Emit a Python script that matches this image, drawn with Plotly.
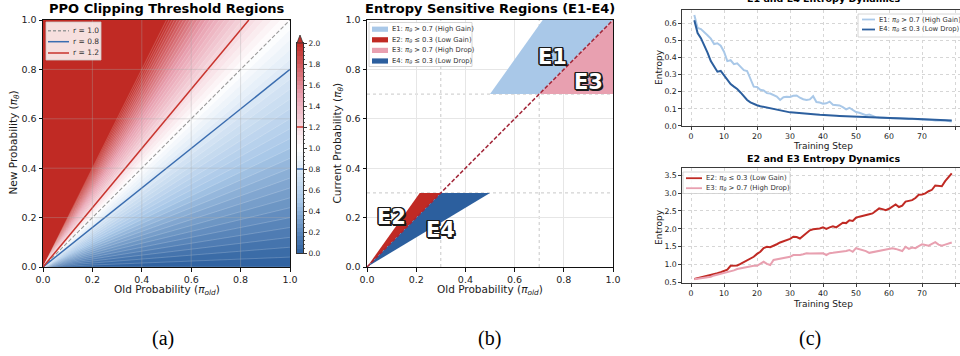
import numpy as np
import plotly.graph_objects as go

W, H = 960, 356

# ---------------- data ----------------
# (a) PPO clipping ratio map r = pi_theta / pi_old
prob_ticks = [0.0, 0.2, 0.4, 0.6, 0.8, 1.0]
ratio_lo, ratio_hi, ratio_step = 0.0, 2.0, 0.04
cbar_ticks = [0.0, 0.2, 0.4, 0.6, 0.8, 1.0, 1.2, 1.4, 1.6, 1.8, 2.0]
clip_ratios = [1.0, 0.8, 1.2]
clip_labels = ["r = 1.0", "r = 0.8", "r = 1.2"]

# (b) entropy-sensitive regions
high_thr = 0.7
low_thr = 0.3
ratio_up = 1.4
ratio_down = 0.6
region_names = ["E1", "E2", "E3", "E4"]
region_legend = [
    "E1: <i>π</i><sub><i>θ</i></sub> &gt; 0.7 (High Gain)",
    "E2: <i>π</i><sub><i>θ</i></sub> ≤ 0.3 (Low Gain)",
    "E3: <i>π</i><sub><i>θ</i></sub> &gt; 0.7 (High Drop)",
    "E4: <i>π</i><sub><i>θ</i></sub> ≤ 0.3 (Low Drop)",
]
region_label_pos = [(0.753, 0.851), (0.098, 0.203), (0.90, 0.75), (0.30, 0.151)]

# (c) entropy dynamics
steps = list(range(1, 80))
e1_entropy = [0.65, 0.575, 0.568, 0.552, 0.532, 0.512, 0.48, 0.485, 0.47, 0.435,
              0.38, 0.385, 0.362, 0.367, 0.345, 0.327, 0.322, 0.27, 0.23, 0.228,
              0.212, 0.208, 0.192, 0.19, 0.18, 0.172, 0.152, 0.168, 0.17, 0.169,
              0.176, 0.178, 0.165, 0.156, 0.152, 0.155, 0.174, 0.14, 0.137, 0.13,
              0.132, 0.142, 0.124, 0.124, 0.12, 0.11, 0.097, 0.106, 0.092, 0.081,
              0.077, 0.07, 0.062, 0.066, 0.057, 0.051, 0.049, 0.047, 0.046, 0.047,
              0.045, 0.046, 0.045, 0.044, 0.045, 0.045, 0.042, 0.041, 0.039, 0.038,
              0.037, 0.035, 0.034, 0.031, 0.032, 0.031, 0.031, 0.029, 0.026]
e4_entropy = [0.62, 0.545, 0.515, 0.475, 0.43, 0.38, 0.352, 0.318, 0.322, 0.296,
              0.275, 0.245, 0.23, 0.216, 0.196, 0.172, 0.152, 0.138, 0.128, 0.121,
              0.115, 0.111, 0.106, 0.102, 0.098, 0.092, 0.087, 0.084, 0.081, 0.079,
              0.078, 0.077, 0.074, 0.072, 0.071, 0.069, 0.068, 0.067, 0.065, 0.063,
              0.062, 0.061, 0.06, 0.059, 0.058, 0.057, 0.056, 0.055, 0.054, 0.053,
              0.052, 0.051, 0.05, 0.05, 0.049, 0.048, 0.047, 0.046, 0.045, 0.045,
              0.044, 0.043, 0.042, 0.042, 0.041, 0.041, 0.041, 0.04, 0.039, 0.038,
              0.037, 0.036, 0.035, 0.035, 0.034, 0.033, 0.033, 0.032, 0.031]
e2_entropy = [0.6, 0.62, 0.65, 0.68, 0.69, 0.71, 0.73, 0.76, 0.79, 0.83,
              0.86, 0.97, 0.97, 0.98, 1.02, 1.07, 1.12, 1.17, 1.22, 1.3,
              1.36, 1.46, 1.5, 1.49, 1.52, 1.57, 1.62, 1.65, 1.7, 1.72,
              1.78, 1.77, 1.73, 1.8, 1.88, 1.96, 1.99, 1.99, 2.01, 2.04,
              2.0, 2.04, 2.07, 2.04, 2.1, 2.17, 2.16, 2.24, 2.22, 2.31,
              2.34, 2.37, 2.39, 2.41, 2.43, 2.5, 2.57, 2.55, 2.52, 2.56,
              2.63, 2.68, 2.61, 2.65, 2.76, 2.78, 2.8, 2.86, 2.95, 2.96,
              2.99, 3.05, 3.09, 3.21, 3.19, 3.19, 3.33, 3.45, 3.55]
e3_entropy = [0.59, 0.6, 0.61, 0.63, 0.64, 0.66, 0.7, 0.72, 0.75, 0.76,
              0.78, 0.81, 0.84, 0.88, 0.9, 0.92, 0.93, 0.95, 0.97, 0.97,
              1.02, 1.08, 1.02, 0.99, 1.13, 1.15, 1.16, 1.18, 1.2, 1.22,
              1.27, 1.26, 1.27, 1.29, 1.32, 1.31, 1.31, 1.31, 1.32, 1.32,
              1.27, 1.32, 1.33, 1.34, 1.35, 1.36, 1.38, 1.41, 1.36, 1.46,
              1.44, 1.41, 1.38, 1.33, 1.35, 1.37, 1.38, 1.4, 1.41, 1.44,
              1.46, 1.44, 1.41, 1.38, 1.5, 1.44, 1.48, 1.46, 1.52, 1.57,
              1.55, 1.53, 1.58, 1.63, 1.56, 1.53, 1.56, 1.59, 1.62]
step_ticks = [0, 10, 20, 30, 40, 50, 60, 70, 80]
top_ticks = [0.0, 0.1, 0.2, 0.3, 0.4, 0.5, 0.6]
bot_ticks = [0.5, 1.0, 1.5, 2.0, 2.5, 3.0, 3.5]
c_legend_top = ["E1: <i>π</i><sub><i>θ</i></sub> &gt; 0.7 (High Gain)",
                "E4: <i>π</i><sub><i>θ</i></sub> ≤ 0.3 (Low Drop)"]
c_legend_bot = ["E2: <i>π</i><sub><i>θ</i></sub> ≤ 0.3 (Low Gain)",
                "E3: <i>π</i><sub><i>θ</i></sub> &gt; 0.7 (High Drop)"]

# ---------------- style ----------------
C_E1 = "#a9c8e8"
C_E2 = "#c02a24"
C_E3 = "#e8a0b0"
C_E4 = "#2c5f9e"
C_R08 = "#3a6db0"
C_R12 = "#c8332c"
CMAP = [[0.0, C_E4], [0.25, C_E1], [0.5, "#ffffff"], [0.75, C_E3], [1.0, C_E2]]
FONT = "DejaVu Sans"


def px(x):
    return x / W


def py(y):
    return 1 - y / H


shapes, annots = [], []

fig = go.Figure()

# ---------------- (a) contour ----------------
pi_old = np.linspace(0, 1, 301)
pi_new = np.linspace(0, 1, 301)
PO, PN = np.meshgrid(pi_old, pi_new)
with np.errstate(divide="ignore", invalid="ignore"):
    ratio = np.where(PO > 0, PN / np.where(PO > 0, PO, 1), 2.5)
ratio = np.clip(ratio, 0, 2.5)
ratio[0, 0] = 1.0

fig.add_trace(go.Contour(
    x=pi_old, y=pi_new, z=ratio, xaxis="x", yaxis="y",
    colorscale=CMAP, zmin=ratio_lo, zmax=ratio_hi, zauto=False,
    autocontour=False,
    contours=dict(start=ratio_lo, end=ratio_hi, size=ratio_step, coloring="fill"),
    line=dict(color="rgba(255,255,255,0.4)", width=0.5),
    showscale=False, hoverinfo="skip", showlegend=False))

line_styles = {1.0: ("#9a9a9a", "4px,2px"), 0.8: (C_R08, "solid"), 1.2: (C_R12, "solid")}
for r in clip_ratios:
    xe = min(1.0, 1.0 / r)
    col, dash = line_styles[r]
    fig.add_trace(go.Scatter(x=[0, xe], y=[0, r * xe], mode="lines", xaxis="x", yaxis="y",
                             line=dict(color=col, width=1.5 if r != 1.0 else 1.1, dash=dash),
                             showlegend=False, hoverinfo="skip"))

# grid over contour
for t in prob_ticks[1:-1]:
    shapes.append(dict(type="line", xref="x", yref="y", x0=t, x1=t, y0=0, y1=1,
                       line=dict(color="rgba(170,170,170,0.35)", width=1), layer="above"))
    shapes.append(dict(type="line", xref="x", yref="y", x0=0, x1=1, y0=t, y1=t,
                       line=dict(color="rgba(170,170,170,0.35)", width=1), layer="above"))

# colorbar as its own axis
levels = np.arange(ratio_lo, ratio_hi + ratio_step / 2, ratio_step)
mids = (levels[:-1] + levels[1:]) / 2
fig.add_trace(go.Heatmap(x=[0, 1], y=levels, z=[[m] for m in mids], xaxis="x2", yaxis="y2",
                         colorscale=CMAP, zmin=ratio_lo, zmax=ratio_hi, showscale=False,
                         hoverinfo="skip"))
for val, col in [(0.8, C_R08), (1.2, C_R12)]:
    shapes.append(dict(type="line", xref="x2", yref="y2", x0=0, x1=1, y0=val, y1=val,
                       line=dict(color=col, width=1.5), layer="above"))
cb_x0, cb_x1, cb_top, cb_apex = 297, 303, 43, 35
shapes.append(dict(type="path", xref="paper", yref="paper",
                   path=f"M {px(cb_x0)},{py(cb_top)} L {px((cb_x0 + cb_x1) / 2)},{py(cb_apex)} L {px(cb_x1)},{py(cb_top)} Z",
                   fillcolor=C_E2, line=dict(color="#333", width=0.8), layer="above"))

# ---------------- (b) regions ----------------
regions = {
    "E1": ([high_thr / ratio_up, 1.0 / ratio_up, 1.0, high_thr], [high_thr, 1.0, 1.0, high_thr], C_E1),
    "E2": ([0.0, low_thr / ratio_up, low_thr], [0.0, low_thr, low_thr], C_E2),
    "E3": ([high_thr, 1.0, 1.0], [high_thr, 1.0, high_thr], C_E3),
    "E4": ([0.0, low_thr, low_thr / ratio_down], [0.0, low_thr, low_thr], C_E4),
}
for name in region_names:
    xs, ys, col = regions[name]
    fig.add_trace(go.Scatter(x=xs + [xs[0]], y=ys + [ys[0]], fill="toself", fillcolor=col,
                             mode="lines", line=dict(width=0, color=col), xaxis="x3", yaxis="y3",
                             showlegend=False, hoverinfo="skip"))
fig.add_trace(go.Scatter(x=[0, 1], y=[0, 1], mode="lines", xaxis="x3", yaxis="y3",
                         line=dict(color="#a3283a", width=1.5, dash="4px,2px"),
                         showlegend=False, hoverinfo="skip"))
for t in [low_thr, high_thr]:
    shapes.append(dict(type="line", xref="x3", yref="y3", x0=t, x1=t, y0=0, y1=1,
                       line=dict(color="#c8c8c8", width=1, dash="dot"), layer="below"))
    shapes.append(dict(type="line", xref="x3", yref="y3", x0=0, x1=1, y0=t, y1=t,
                       line=dict(color="#c8c8c8", width=1, dash="dot"), layer="below"))
outline = ", ".join(f"{dx}px {dy}px 0 #1a1a1a" for dx, dy in
                    [(-1.5, 0), (1.5, 0), (0, -1.5), (0, 1.5), (-1.2, -1.2), (1.2, -1.2), (-1.2, 1.2), (1.2, 1.2), (2, 2)])
for name, (lx, ly) in zip(region_names, region_label_pos):
    annots.append(dict(xref="x3", yref="y3", x=lx, y=ly, text=f"<b>{name}</b>", showarrow=False,
                       font=dict(family=FONT, size=21, color="white", shadow=outline)))

# ---------------- (c) lines ----------------
fig.add_trace(go.Scatter(x=steps, y=e1_entropy, mode="lines", xaxis="x4", yaxis="y4",
                         line=dict(color=C_E1, width=2), showlegend=False, hoverinfo="skip"))
fig.add_trace(go.Scatter(x=steps, y=e4_entropy, mode="lines", xaxis="x4", yaxis="y4",
                         line=dict(color=C_E4, width=2), showlegend=False, hoverinfo="skip"))
fig.add_trace(go.Scatter(x=steps, y=e2_entropy, mode="lines", xaxis="x5", yaxis="y5",
                         line=dict(color=C_E2, width=2), showlegend=False, hoverinfo="skip"))
fig.add_trace(go.Scatter(x=steps, y=e3_entropy, mode="lines", xaxis="x5", yaxis="y5",
                         line=dict(color=C_E3, width=2), showlegend=False, hoverinfo="skip"))


# ---------------- legends (drawn) ----------------
def legend(box, sx0, sx1, tx, rows, fsize, kind, lw=1.8):
    x0, y0, x1, y1 = box
    shapes.append(dict(type="rect", xref="paper", yref="paper", x0=px(x0), x1=px(x1),
                       y0=py(y1), y1=py(y0), fillcolor="rgba(255,255,255,0.85)",
                       line=dict(color="#cccccc", width=0.8), layer="above"))
    for ry, col, dash, label in rows:
        if kind == "line":
            shapes.append(dict(type="line", xref="paper", yref="paper", x0=px(sx0), x1=px(sx1),
                               y0=py(ry), y1=py(ry), line=dict(color=col, width=lw, dash=dash),
                               layer="above"))
        else:
            shapes.append(dict(type="rect", xref="paper", yref="paper", x0=px(sx0), x1=px(sx1),
                               y0=py(ry + 2.6), y1=py(ry - 2.6), fillcolor=col, line=dict(width=0),
                               layer="above"))
        annots.append(dict(xref="paper", yref="paper", x=px(tx), y=py(ry), text=label,
                           xanchor="left", yanchor="middle", showarrow=False,
                           font=dict(family=FONT, size=fsize, color="#333")))


legend((46, 22, 101, 60), 48, 69, 71, [
    (30.7, "#9a9a9a", "3px,2px", clip_labels[0]),
    (41.7, C_R08, "solid", clip_labels[1]),
    (53.0, C_R12, "solid", clip_labels[2])], 7.5, "line", lw=1.5)
legend((369, 22.5, 472, 66.5), 372, 388, 390, [
    (29.2, C_E1, None, region_legend[0]),
    (39.8, C_E2, None, region_legend[1]),
    (50.4, C_E3, None, region_legend[2]),
    (61.0, C_E4, None, region_legend[3])], 6.8, "patch")
legend((858, 14, 962, 37), 862, 875, 877, [
    (19.5, C_E1, "solid", c_legend_top[0]),
    (29.5, C_E4, "solid", c_legend_top[1])], 6.8, "line")
legend((683, 172, 790, 193.5), 686, 702, 704, [
    (178.2, C_E2, "solid", c_legend_bot[0]),
    (188.2, C_E3, "solid", c_legend_bot[1])], 6.9, "line")


# ---------------- text ----------------
def text(x, y, s, size, angle=0, family=FONT, color="#1a1a1a"):
    annots.append(dict(xref="paper", yref="paper", x=px(x), y=py(y), text=s, showarrow=False,
                       xanchor="center", yanchor="middle", textangle=angle,
                       font=dict(family=family, size=size, color=color)))


text(166.5, 8, "<b>PPO Clipping Threshold Regions</b>", 13, color="black")
text(490, 8, "<b>Entropy Sensitive Regions (E1-E4)</b>", 13, color="black")
text(823, -1, "<b>E1 and E4 Entropy Dynamics</b>", 9.5, color="black")
text(823, 158, "<b>E2 and E3 Entropy Dynamics</b>", 9.5, color="black")
text(166.5, 289.5, "Old Probability (<i>π</i><sub><i>old</i></sub>)", 10.5)
text(490, 289.5, "Old Probability (<i>π</i><sub><i>old</i></sub>)", 10.5)
text(13.5, 143, "New Probability (<i>π</i><sub><i>θ</i></sub>)", 10.5, angle=-90)
text(337.5, 143, "Current Probability (<i>π</i><sub><i>θ</i></sub>)", 10.5, angle=-90)
text(659, 67, "Entropy", 9, angle=-90)
text(659, 227, "Entropy", 9, angle=-90)
text(823, 146.5, "Training Step", 9)
text(823, 303.5, "Training Step", 9)
text(163, 338, "(a)", 20, family="Liberation Serif", color="black")
text(490, 338, "(b)", 20, family="Liberation Serif", color="black")
text(810, 338, "(c)", 20, family="Liberation Serif", color="black")

# ---------------- axes ----------------
tickfont = dict(family=FONT, size=9.5, color="#222")
small_tick = dict(family=FONT, size=7.8, color="#222")


def prob_axis(domain, grid):
    return dict(domain=domain, range=[0, 1], tickvals=prob_ticks, tickformat=".1f",
                showline=True, linecolor="#111", linewidth=1, mirror=True,
                ticks="outside", ticklen=3.5, tickcolor="#111", tickfont=tickfont,
                showgrid=grid, gridcolor="#e6e6e6", gridwidth=1, zeroline=False,
                fixedrange=True, automargin=False)


def c_axis(domain, rng, vals, anchor, fmt, mirror):
    return dict(domain=domain, range=rng, anchor=anchor, tickvals=vals, tickformat=fmt,
                showline=True, mirror=mirror, linecolor="#3a3a3a", linewidth=1.3,
                ticks="outside", ticklen=2.5, tickcolor="#3a3a3a", tickfont=small_tick,
                showgrid=True, gridcolor="#d6d6d6", griddash="dot", gridwidth=0.8,
                zeroline=False, fixedrange=True, automargin=False)


ya = [py(267), py(20)]
fig.update_layout(
    template="none",
    font=dict(family=FONT, color="#222"),
    width=W, height=H, autosize=False, margin=dict(l=0, r=0, t=0, b=0, pad=0),
    paper_bgcolor="white", plot_bgcolor="white", showlegend=False,
    xaxis=dict(prob_axis([px(43), px(290)], False), anchor="y"),
    yaxis=dict(prob_axis(ya, False), anchor="x"),
    xaxis2=dict(domain=[px(cb_x0), px(cb_x1)], range=[0, 1], anchor="y2", showticklabels=False,
                ticks="", showgrid=False, zeroline=False, showline=True, mirror=True,
                linecolor="#333", linewidth=0.8, fixedrange=True, automargin=False),
    yaxis2=dict(domain=[py(253), py(cb_top)], range=[0, 2], anchor="x2", side="right",
                tickvals=cbar_ticks, tickformat=".1f", ticks="outside", ticklen=3,
                tickcolor="#333", tickfont=dict(family=FONT, size=7.5, color="#222"),
                showgrid=False, zeroline=False, showline=True, mirror=True, linecolor="#333",
                linewidth=0.8, fixedrange=True, automargin=False,
                minor=dict(dtick=0.04, tick0=0, ticks="outside", ticklen=1.5, tickcolor="#555")),
    xaxis3=dict(prob_axis([px(367), px(613)], True), anchor="y3"),
    yaxis3=dict(prob_axis(ya, True), anchor="x3"),
    xaxis4=c_axis([px(682), 1.0], [-2.73, 81.5], step_ticks, "y4", "d", True),
    yaxis4=c_axis([py(126), py(10)], [-0.001, 0.68], top_ticks, "x4", ".1f", False),
    xaxis5=c_axis([px(682), 1.0], [-2.73, 81.5], step_ticks, "y5", "d", True),
    yaxis5=c_axis([py(283.3), py(168.3)], [0.48, 3.69], bot_ticks, "x5", ".1f", False),
    shapes=shapes, annotations=annots,
)

fig.write_html("out.html")
